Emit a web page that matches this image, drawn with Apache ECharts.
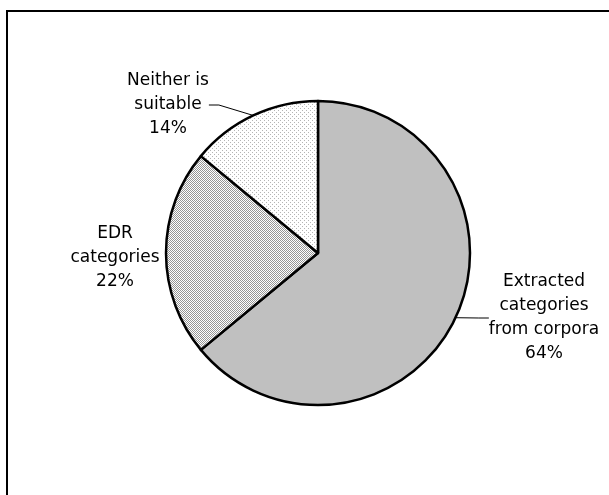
<!DOCTYPE html>
<html lang="en">

<head>
  <meta charset="utf-8" />
  <title></title>
  <script src="https://cdn.jsdelivr.net/npm/echarts@6/dist/echarts.min.js"></script>
  <style>
    * {
      margin: 0;
      padding: 0;
    }

    #chart-container {
      position: relative;
      width: 609px;
      height: 495px;
      overflow: hidden;
      background: #fff;
    }
  </style>
</head>

<body>
  <div id="chart-container"></div>

  <script>
    // data
    var names = ["Extracted\ncategories\nfrom corpora", "EDR\ncategories", "Neither is\nsuitable"];
    var values = [64, 22, 14];

    // small repeat patterns for the dotted slices
    const makePattern = (size, dots, dotColor) => {
      var c = document.createElement("canvas");
      c.width = size;
      c.height = size;
      var ctx = c.getContext("2d");
      ctx.fillStyle = "#fff";
      ctx.fillRect(0, 0, size, size);
      ctx.fillStyle = dotColor;
      dots.forEach(([x, y]) => ctx.fillRect(x, y, 1, 1));
      return c;
    };

    var edrPattern = makePattern(2, [[0, 0], [1, 1]], "#959595");
    var neitherPattern = makePattern(4, [[0, 0], [2, 2]], "#b4b4b4");

    var fills = [
      "#c0c0c0",
      { image: edrPattern, repeat: "repeat" },
      { image: neitherPattern, repeat: "repeat" },
    ];

    // where each label sits (centre of the text block)
    var labelPos = [
      [544, 318],
      [115, 258],
      [168, 105],
    ];
  </script>

  <script>
    var dom = document.getElementById("chart-container");
    var myChart = echarts.init(dom, null, {
      renderer: "canvas",
      useDirtyRect: false,
    });

    var option;

    option = {
      animation: false,
      backgroundColor: "#fff",
      graphic: [
        {
          type: "rect",
          shape: { x: 7, y: 11, width: 640, height: 520 },
          style: { fill: "none", stroke: "#000", lineWidth: 2 },
        },
      ],
      series: [
        {
          type: "pie",
          center: [318, 253],
          radius: 152,
          startAngle: 90,
          clockwise: true,
          avoidLabelOverlap: false,
          itemStyle: {
            borderColor: "#000",
            borderWidth: 2.5,
          },
          label: {
            show: true,
            position: "outside",
            formatter: "{b}\n{d}%",
            fontFamily: "DejaVu Sans",
            fontSize: 17,
            lineHeight: 24,
            color: "#000",
            align: "center",
          },
          labelLine: {
            show: true,
            length: 15,
            length2: 10,
            lineStyle: { color: "#000", width: 1 },
          },
          labelLayout: (params) => {
            var p = labelPos[params.dataIndex];
            return {
              x: p[0],
              y: p[1],
              align: "center",
              verticalAlign: "middle",
            };
          },
          data: values.map((v, i) => ({
            name: names[i],
            value: v,
            itemStyle: { color: fills[i] },
            labelLine: { show: i !== 1 },
          })),
        },
      ],
    };

    if (option && typeof option === "object") {
      myChart.setOption(option);
    }

    window.addEventListener("resize", myChart.resize);
  </script>
</body>

</html>
